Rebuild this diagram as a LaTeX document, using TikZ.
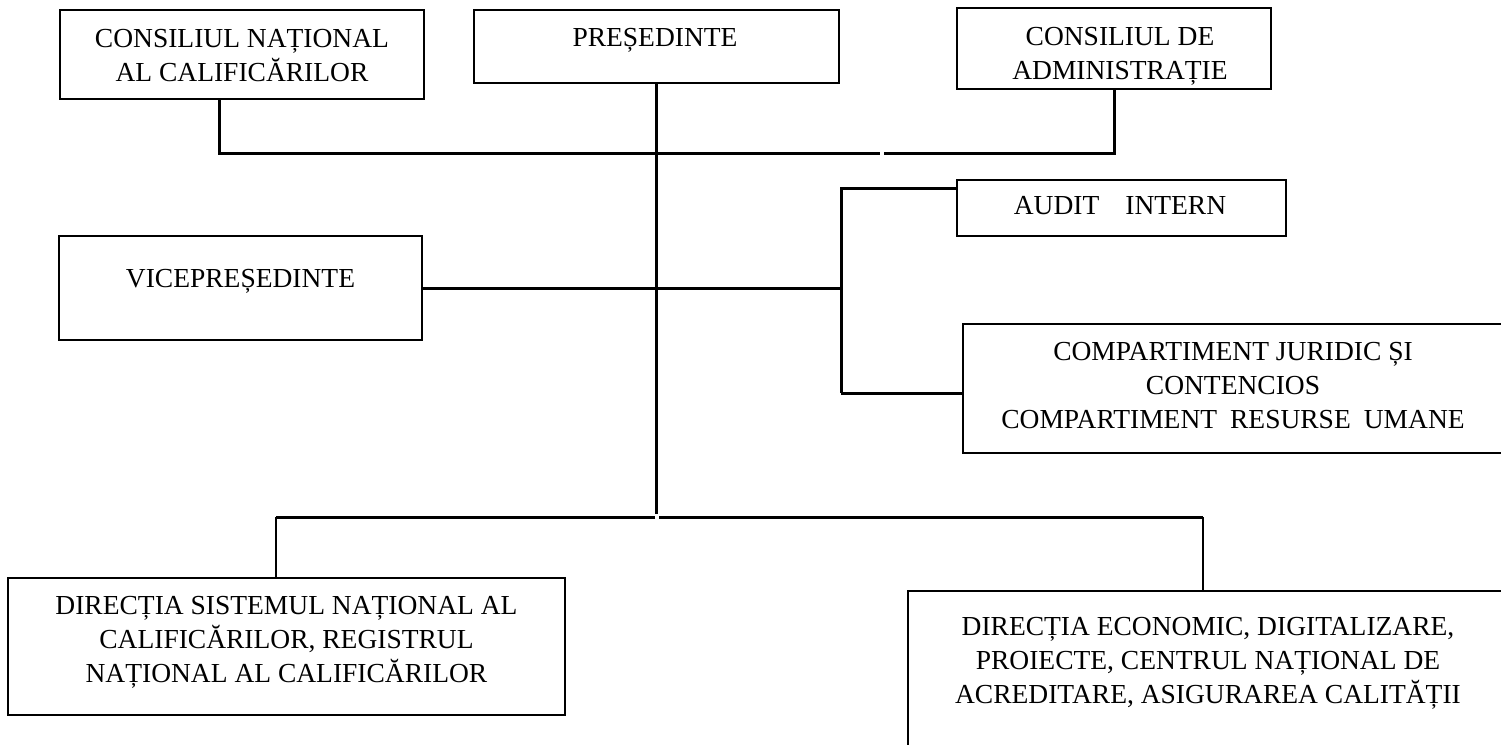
\documentclass[tikz,border=0pt]{standalone}
\usepackage{fontspec}
\setmainfont{Liberation Serif}
\newcommand\lstrut{\rule[-10.2pt]{0pt}{34pt}}
\tikzset{
  box/.style={draw=black, line width=2pt, rectangle, inner sep=0pt, outer sep=0pt},
  txt/.style={align=center, inner sep=0pt, font=\fontsize{27.5}{34}\selectfont},
  conn/.style={line width=3pt},
  thinconn/.style={line width=2pt}
}
\begin{document}
\begin{tikzpicture}[x=1pt,y=-1pt]
\useasboundingbox (0,0) rectangle (1501,744);
\fill[white] (0,0) rectangle (1501,744);
\clip (0,0) rectangle (1501,744);
% boxes
\node[box, minimum width=364pt, minimum height=89pt] (cnc) at (242,54.5) {};
\node[box, minimum width=365pt, minimum height=73pt] (pres) at (656.5,46.5) {};
\node[box, minimum width=314pt, minimum height=81pt] (admin) at (1114,48.5) {};
\node[box, minimum width=329pt, minimum height=56pt] (audit) at (1121.5,208) {};
\node[box, minimum width=363pt, minimum height=104pt] (vice) at (240.5,288) {};
\node[box, minimum width=547pt, minimum height=129pt] (comp) at (1236.5,388.5) {};
\node[box, minimum width=557pt, minimum height=137pt] (dsnc) at (286.5,646.5) {};
\node[box, minimum width=600pt, minimum height=189pt] (dec) at (1208,685.5) {};
% texts
\node[txt] (cnct) at (242,57.2) {\lstrut CONSILIUL NAȚIONAL\\\lstrut AL CALIFICĂRILOR};
\node[txt] (prest) at (655,39.2) {\lstrut PREȘEDINTE};
\node[txt] (admint) at (1120,55.2) {\lstrut CONSILIUL DE\\\lstrut ADMINISTRAȚIE};
\node[txt] (auditt) at (1120,207.2) {\lstrut AUDIT\hspace{26pt}INTERN};
\node[txt] (vicet) at (240.5,280.2) {\lstrut VICEPREȘEDINTE};
\node[txt] (compt) at (1233,387.2) {\lstrut COMPARTIMENT JURIDIC ȘI\\\lstrut CONTENCIOS\\\lstrut COMPARTIMENT\hspace{13pt}RESURSE\hspace{13pt}UMANE};
\node[txt] (dsnct) at (286.5,641.2) {\lstrut DIRECȚIA SISTEMUL NAȚIONAL AL\\\lstrut CALIFICĂRILOR, REGISTRUL\\\lstrut NAȚIONAL AL CALIFICĂRILOR};
\node[txt] (dect) at (1208,662.2) {\lstrut DIRECȚIA ECONOMIC, DIGITALIZARE,\\\lstrut PROIECTE, CENTRUL NAȚIONAL DE\\\lstrut ACREDITARE, ASIGURAREA CALITĂȚII};
% coordinates
\coordinate (c1) at (219,153);
\coordinate (c2) at (880,153);
\coordinate (c3) at (884,153.5);
\coordinate (pend) at (656.5,514);
\coordinate (b1) at (841,288);
\coordinate (ba) at (841,188);
\coordinate (bc) at (841,393);
\coordinate (l) at (655,517);
\coordinate (r) at (659,517);
\coordinate (dl) at (276,517);
\coordinate (dr) at (1203,517);
% connectors
\draw[conn] (c1 |- cnc.south) -- (c1) -- (c2);
\draw[conn] (admin.south) |- (c3);
\draw[conn] (pres.south) -- (pend);
\draw[conn] (vice.east) -- (b1);
\draw[conn] (ba -| audit.west) -- (ba) -- (bc);
\draw[conn] (bc) -- (bc -| comp.west);
\draw[conn] (l) -- (dl);
\draw[thinconn] (dl) -- (dl |- dsnc.north);
\draw[conn] (r) -- (dr);
\draw[thinconn] (dr) -- (dr |- dec.north);
\end{tikzpicture}
\end{document}
